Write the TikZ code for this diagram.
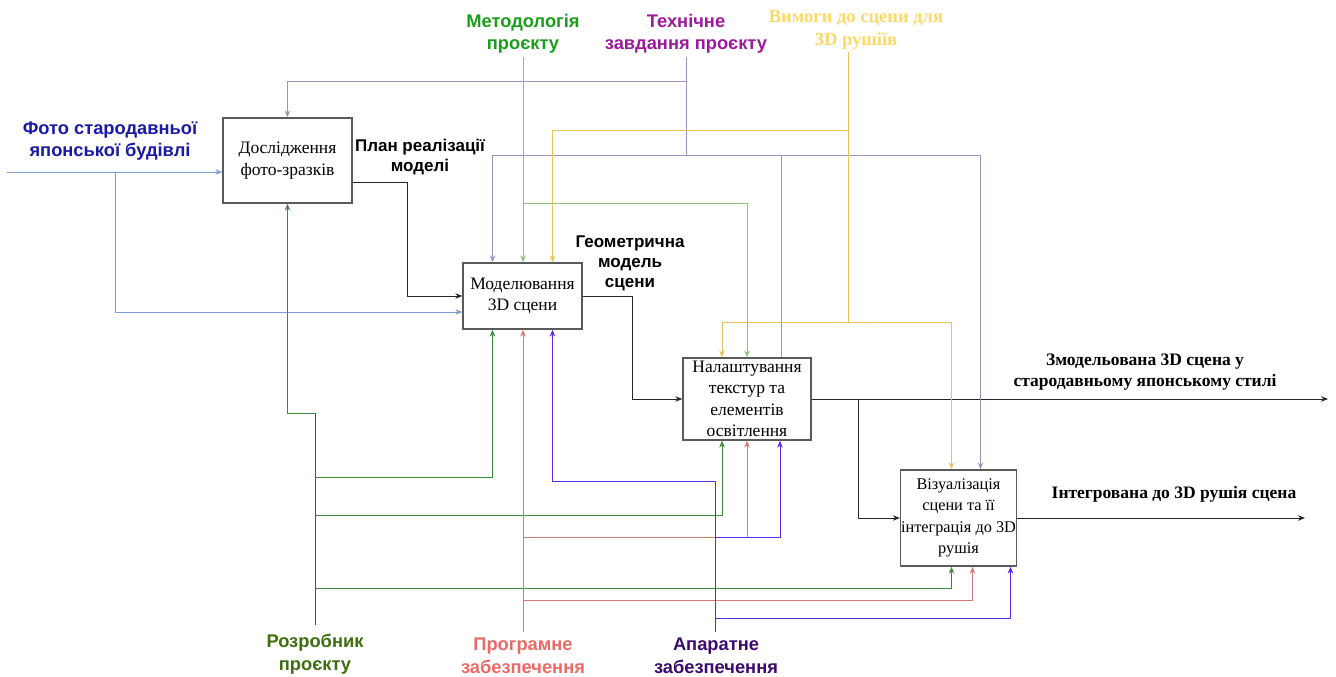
\documentclass[tikz,border=0pt]{standalone}
\usepackage{fontspec}
\setmainfont{Liberation Serif}
\newfontfamily\labelfont{Liberation Sans}
\usetikzlibrary{arrows.meta,calc}

\definecolor{boxgray}{HTML}{5A5A5A}
\definecolor{inblue}{HTML}{7F9FD4}
\definecolor{ctrlpurple}{HTML}{A68FC0}
\definecolor{ctrlgreen}{HTML}{8FC07A}
\definecolor{ctrlyellow}{HTML}{E6C35C}
\definecolor{mechgreen}{HTML}{3D8A3D}
\definecolor{mechgreendark}{HTML}{2A6B1A}
\definecolor{mechred}{HTML}{D47A78}
\definecolor{mechviolet}{HTML}{5A28E0}
\definecolor{txtblue}{HTML}{1A1AA6}
\definecolor{txtgreen}{HTML}{1B9E1B}
\definecolor{txtpurple}{HTML}{9C1A9C}
\definecolor{txtyellow}{HTML}{FFD966}
\definecolor{txtolive}{HTML}{3F6F0F}
\definecolor{txtsalmon}{HTML}{EA6B66}
\definecolor{txtviolet}{HTML}{3B0A6E}

\begin{document}
\begin{tikzpicture}[x=1pt,y=-1pt,
  box/.style={draw=boxgray,line width=1.3pt,fill=white,align=center,inner sep=0.5pt,
    font=\fontsize{17.5}{21.5}\selectfont},
  lbl/.style={align=center,inner sep=1pt,font=\labelfont\bfseries\fontsize{18.3}{22.5}\selectfont},
  plbl/.style={align=center,font=\labelfont\bfseries\fontsize{17}{20}\selectfont},
  olbl/.style={align=center,font=\bfseries\fontsize{17.5}{21}\selectfont},
  ln/.style={line width=1pt},
  >={Stealth[length=7pt,width=5.5pt]}]

\fill[white] (0,0) rectangle (1336,677);
\useasboundingbox (0,0) rectangle (1336,677);

% activity boxes
\node[box,minimum width=129pt,minimum height=85pt] (a1) at (287.5,160.5) {Дослідження\\фото-зразків};
\node[box,minimum width=119pt,minimum height=66pt] (a2) at (522.5,296) {Моделювання\\3D сцени};
\node[box,minimum width=128pt,minimum height=82pt] (a3) at (747,399) {Налаштування\\текстур та\\елементів\\освітлення};
\node[box,minimum width=109pt,minimum height=96pt,font=\fontsize{16.3}{21.5}\selectfont] (a4) at (958.5,518) {Візуалізація\\сцени та її\\інтеграція до 3D\\рушія};

% labels
\node[lbl,text=txtblue] (foto) at (110,141) {Фото стародавньої\\японської будівлі};
\node[lbl,text=txtgreen] (met) at (523,34) {Методологія\\проєкту};
\node[lbl,text=txtpurple] (tech) at (686,34) {Технічне\\завдання проєкту};
\node[olbl,text=txtyellow,font=\bfseries\fontsize{18.5}{23}\selectfont] (req) at (856,30) {Вимоги до сцени для\\3D рушіїв};
\node[lbl,text=txtolive] (dev) at (315,654) {Розробник\\проєкту};
\node[lbl,text=txtsalmon] (soft) at (523,656) {Програмне\\забезпечення};
\node[lbl,text=txtviolet] (hard) at (716,656) {Апаратне\\забезпечення};
\node[plbl] (plan) at (420,157) {План реалізації\\моделі};
\node[plbl] (geom) at (630,263) {Геометрична\\модель\\сцени};
\node[olbl] (res1) at (1145,372) {Змодельована 3D сцена у\\стародавньому японському стилі};
\node[olbl] (res2) at (1174,494) {Інтегрована до 3D рушія сцена};

% free ends
\coordinate (fin) at (7,172);
\coordinate (fbr) at (115,172);
\coordinate (tz) at (686,57);
\coordinate (tpbus) at (686,155);
\coordinate (mz) at (523,57);
\coordinate (rz) at (848,52);
\coordinate (dz) at (315,625);
\coordinate (sz) at (523,632);
\coordinate (hz) at (715,632);
\coordinate (out1) at (1328,399);
\coordinate (out2) at (1305,518);

% input
\draw[ln,inblue,->] (fin) -- (a1.west |- fin);
\draw[ln,inblue,->] (fbr) |- ($(a2.west)+(0,16)$);

% outputs
\draw[ln,black!85,->] ($(a1.east)+(0,21.5)$) -- ++(55,0) |- (a2.west);
\draw[ln,black!85,->] (a2.east) -- ++(50,0) |- (a3.west);
\draw[ln,black!85,->] (a3.east) -- (out1);
\draw[ln,black!85,->] ($(a3.east)+(47,0)$) |- (a4.west);
\draw[ln,black!85,->] (a4.east) -- (out2);

% controls
\draw[ln,ctrlpurple] (tz) -- (tpbus);
\draw[ln,ctrlpurple,->] ($(tz)+(0,25)$) -| (a1.north);
\draw[ln,ctrlpurple,->] (tpbus) -| ($(a2.north)+(-30,0)$);
\draw[ln,ctrlpurple] (tpbus) -| ($(a3.north)+(34,0)$);
\draw[ln,ctrlpurple,->] (tpbus) -| ($(a4.north)+(22,0)$);

\draw[ln,ctrlgreen,->] (mz) -- (mz |- a2.north);
\draw[ln,ctrlgreen,->] ($(mz)+(0,146)$) -| (a3.north);

\draw[ln,ctrlyellow] (rz) -- ++(0,270);
\draw[ln,ctrlyellow,->] ($(rz)+(0,78)$) -| ($(a2.north)+(30,0)$);
\draw[ln,ctrlyellow,->] ($(rz)+(0,270)$) -| ($(a3.north)+(-25,0)$);
\draw[ln,ctrlyellow,->] ($(rz)+(0,270)$) -| ($(a4.north)+(-7,0)$);

% mechanisms
\draw[ln,mechgreendark] (dz) -- ++(0,-212);
\draw[ln,mechgreen,<-] (a1.south) |- ($(dz)+(0,-212)$);
\draw[ln,mechgreen,->] ($(dz)+(0,-148)$) -| ($(a2.south)+(-30,0)$);
\draw[ln,mechgreen,->] ($(dz)+(0,-110)$) -| ($(a3.south)+(-25,0)$);
\draw[ln,mechgreen,->] ($(dz)+(0,-37)$) -| ($(a4.south)+(-7,0)$);

\draw[ln,mechred,->] (sz) -- (sz |- a2.south);
\draw[ln,mechred,->] ($(sz)+(0,-95)$) -| (a3.south);
\draw[ln,mechred,->] ($(sz)+(0,-32)$) -| ($(a4.south)+(14,0)$);

\draw[ln,mechviolet,->] (hz) -- ++(0,-151) -| ($(a2.south)+(30,0)$);
\draw[ln,mechviolet,->] ($(hz)+(0,-95)$) -| ($(a3.south)+(33,0)$);
\draw[ln,mechviolet,->] ($(hz)+(0,-14)$) -| ($(a4.south)+(52,0)$);
\end{tikzpicture}
\end{document}
